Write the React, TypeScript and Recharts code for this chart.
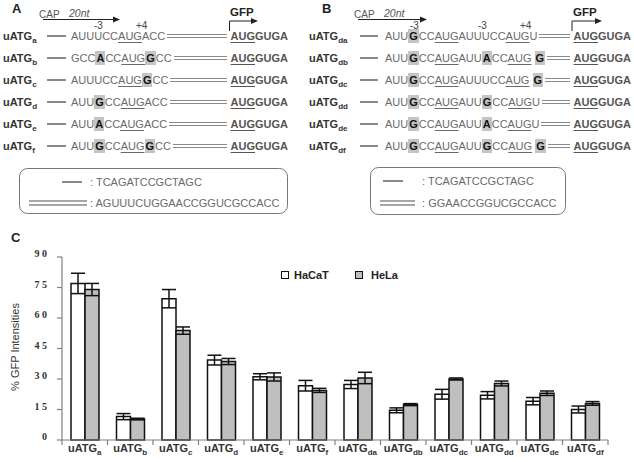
import { BarChart, Bar, XAxis, YAxis, ErrorBar } from 'recharts';

// panel C data
const constructs = ['a', 'b', 'c', 'd', 'e', 'f', 'da', 'db', 'dc', 'dd', 'de', 'df'];
const hacat = [77, 11.5, 69.5, 39.3, 31.1, 26.7, 27.3, 14.6, 22.5, 22, 19.1, 15];
const hacatErr = [5, 1.5, 4.5, 2.4, 1.5, 2.6, 2, 1.2, 2.4, 1.8, 1.8, 1.7];
const hela = [74, 10.3, 53.8, 38.6, 31, 24.4, 30.5, 17.4, 30, 27.8, 23, 18];
const helaErr = [3, 0.4, 1.8, 1.5, 2, 1, 2.8, 0.5, 0.5, 1.2, 1.1, 0.9];
const yTicks = [0, 15, 30, 45, 60, 75, 90];

// panels A / B sequences: [X] = shaded mutated base, _..._ = underlined AUG
const seqA = [
  'AUUUCC_AUG_ACC',
  'GCC[A]CC_AUG_[G]CC',
  'AUUUCC_AUG_[G]CC',
  'AUU[G]CC_AUG_ACC',
  'AUU[A]CC_AUG_ACC',
  'AUU[G]CC_AUG_[G]CC',
];
const seqB = [
  'AUU[G]CC_AUG_AUUUCC_AUG_U',
  'AUU[G]CC_AUG_AUU[A]CC_AUG_ [G]',
  'AUU[G]CC_AUG_AUUUCC_AUG_ [G]',
  'AUU[G]CC_AUG_AUU[G]CC_AUG_U',
  'AUU[G]CC_AUG_AUU[A]CC_AUG_U',
  'AUU[G]CC_AUG_AUU[G]CC_AUG_ [G]',
];
const linkerShort = 'TCAGATCCGCTAGC';
const linkerA = 'AGUUUCUGGAACCGGUCGCCACC';
const linkerB = 'GGAACCGGUCGCCACC';
const orf = '_AUG_GUGA';

const SANS = 'Arial, "Liberation Sans", sans-serif';
const SERIF = '"Times New Roman", "Liberation Serif", serif';
const LINE = '#8a8a8a';
const SEQ = '#6a6a6a';
const AX = '#808080';
const PLOT_W = 546;
const BAND = PLOT_W / constructs.length;

const data = constructs.map((c, i) => ({
  name: c,
  hacat: hacat[i],
  hacatErr: hacatErr[i],
  hela: hela[i],
  helaErr: helaErr[i],
}));

const UL = { textDecoration: 'underline', textUnderlineOffset: 2 };
const SHADE = {
  background: '#c4c4c4',
  color: '#111',
  fontWeight: 'bold',
  display: 'inline-block',
  lineHeight: '14px',
  padding: '0 1px',
};

function renderSeq(seq: string) {
  const out: any[] = [];
  let under = false;
  let buf = '';
  let k = 0;
  const flush = () => {
    if (buf) {
      out.push(<span key={k++} style={under ? UL : undefined}>{buf}</span>);
      buf = '';
    }
  };
  for (let i = 0; i < seq.length; i++) {
    const ch = seq[i];
    if (ch === '_') {
      flush();
      under = !under;
    } else if (ch === '[') {
      flush();
      out.push(<span key={k++} style={SHADE}>{seq[i + 1]}</span>);
      i += 2;
    } else {
      buf += ch;
    }
  }
  flush();
  return out;
}

function SeqRow({ name, seq, y, labelX, left, width, lead, gap }: any) {
  return (
    <>
      <div style={{ position: 'absolute', left: labelX, top: y - 8, lineHeight: '16px', fontSize: 11, fontWeight: 'bold', color: '#333', whiteSpace: 'nowrap' }}>
        uATG<span style={{ fontSize: 8, position: 'relative', top: 3 }}>{name}</span>
      </div>
      <div style={{ position: 'absolute', left, top: y - 8, width, height: 16, display: 'flex', alignItems: 'center', fontSize: 11, color: SEQ }}>
        <div style={{ width: lead, height: 2, background: LINE, marginRight: gap, flex: 'none' }} />
        <span style={{ whiteSpace: 'pre' }}>{renderSeq(seq)}</span>
        <div style={{ flex: 1, height: 2, borderTop: `1.5px solid ${LINE}`, borderBottom: `1.5px solid ${LINE}`, margin: '0 4px 0 2px' }} />
        <span style={{ fontWeight: 'bold', color: '#555', whiteSpace: 'pre' }}>{renderSeq(orf)}</span>
      </div>
    </>
  );
}

function XTick({ x, y, payload, index }: any) {
  return (
    <g>
      <line x1={x + BAND / 2} x2={x + BAND / 2} y1={y} y2={y + 5} stroke={AX} strokeWidth={1.2} />
      {index === 0 && <line x1={x - BAND / 2} x2={x - BAND / 2} y1={y} y2={y + 5} stroke={AX} strokeWidth={1.2} />}
      <text x={x} y={y + 12} textAnchor="middle" fontFamily={SANS} fontSize={11} fontWeight="bold" fill="#333">
        <tspan>uATG</tspan>
        <tspan fontSize={8} dy={3}>{payload.value}</tspan>
      </text>
    </g>
  );
}

function YTick({ x, y, payload }: any) {
  return (
    <text x={x - 10} y={y} textAnchor="end" fontFamily={SERIF} fontSize={10} fontWeight="bold" fill="#333">
      {String(payload.value).split('').join(' ')}
    </text>
  );
}

function Arrow({ d, hx, hy }: any) {
  return (
    <g>
      <path d={d} fill="none" stroke="#222" strokeWidth={1} />
      <polygon points={`${hx - 7},${hy - 3} ${hx},${hy} ${hx - 7},${hy + 3}`} fill="#222" />
    </g>
  );
}

export default function App() {
  const rowY = [36, 58, 80, 102, 124, 146];
  return (
    <div style={{ position: 'absolute', left: 0, top: 0, width: 634, height: 462, background: '#fff', overflow: 'hidden', fontFamily: SANS }}>
      <div style={{ position: 'absolute', left: 0, top: 225 }}>
        <BarChart width={634} height={237} data={data} margin={{ top: 32, right: 26, bottom: 0, left: 0 }} barGap={0} barSize={14}>
          <XAxis dataKey="name" height={22} interval={0} tickSize={0} tickMargin={0} tick={<XTick />} axisLine={{ stroke: AX, strokeWidth: 1.2 }} />
          <XAxis xAxisId="top" orientation="top" dataKey="name" height={0} tick={false} tickLine={false} axisLine={{ stroke: AX, strokeWidth: 1.2 }} />
          <YAxis width={62} domain={[0, 90]} ticks={yTicks} tickSize={5} tickMargin={0} tick={<YTick />} tickLine={{ stroke: AX, strokeWidth: 1.2 }} axisLine={{ stroke: AX, strokeWidth: 1.2 }} />
          <YAxis yAxisId="r" orientation="right" width={0} domain={[0, 90]} tick={false} tickLine={false} axisLine={{ stroke: AX, strokeWidth: 1.2 }} />
          <Bar dataKey="hacat" fill="#fff" stroke="#111" strokeWidth={1.5} isAnimationActive={false}>
            <ErrorBar dataKey="hacatErr" width={7} stroke="#111" strokeWidth={1.5} />
          </Bar>
          <Bar dataKey="hela" fill="#bfbfbf" stroke="#111" strokeWidth={1.5} isAnimationActive={false}>
            <ErrorBar dataKey="helaErr" width={7} stroke="#111" strokeWidth={1.5} />
          </Bar>
        </BarChart>
      </div>

      <svg width={634} height={462} style={{ position: 'absolute', left: 0, top: 0, pointerEvents: 'none' }} fontFamily={SANS}>
        {/* panel letters */}
        <text x={12} y={13} fontSize={13} fontWeight="bold" fill="#222">A</text>
        <text x={322} y={13} fontSize={13} fontWeight="bold" fill="#222">B</text>
        <text x={11} y={242} fontSize={13} fontWeight="bold" fill="#222">C</text>

        {/* panel A header */}
        <text x={39} y={18} fontSize={10} fill="#555">CAP</text>
        <text x={69} y={16.5} fontSize={10.5} fontStyle="italic" fill="#555">20nt</text>
        <Arrow d="M43,19.5 H114" hx={120} hy={19.5} />
        <text x={94} y={28.5} fontSize={10} fill="#444">-3</text>
        <text x={136} y={28.5} fontSize={10} fill="#444">+4</text>
        <text x={230} y={16} fontSize={11.5} fontWeight="bold" fill="#222">GFP</text>
        <Arrow d="M229.5,31 V21 H252" hx={258} hy={21} />

        {/* panel B header */}
        <text x={354} y={18} fontSize={10} fill="#555">CAP</text>
        <text x={384} y={16.5} fontSize={10.5} fontStyle="italic" fill="#555">20nt</text>
        <Arrow d="M358,19.5 H421" hx={427} hy={19.5} />
        <text x={410} y={28.5} fontSize={10} fill="#444">-3</text>
        <text x={478} y={28.5} fontSize={10} fill="#444">-3</text>
        <text x={520} y={28.5} fontSize={10} fill="#444">+4</text>
        <text x={573} y={16} fontSize={11.5} fontWeight="bold" fill="#222">GFP</text>
        <Arrow d="M572,31 V21 H596" hx={602} hy={21} />

        {/* legend boxes */}
        <rect x={19.5} y={168.5} width={268} height={45} rx={8} fill="none" stroke="#777" />
        <line x1={62} x2={82} y1={182} y2={182} stroke={LINE} strokeWidth={2} />
        <text x={90} y={186} fontSize={11} fill={SEQ}>: {linkerShort}</text>
        <line x1={29} x2={87} y1={201} y2={201} stroke={LINE} strokeWidth={1.5} />
        <line x1={29} x2={87} y1={205} y2={205} stroke={LINE} strokeWidth={1.5} />
        <text x={90} y={207} fontSize={11} fill={SEQ}>: {linkerA}</text>

        <rect x={370.5} y={167.5} width={195} height={47} rx={8} fill="none" stroke="#777" />
        <line x1={383} x2={403} y1={181} y2={181} stroke={LINE} strokeWidth={2} />
        <text x={422} y={185} fontSize={11} fill={SEQ}>: {linkerShort}</text>
        <line x1={380} x2={415} y1={201} y2={201} stroke={LINE} strokeWidth={1.5} />
        <line x1={380} x2={415} y1={205} y2={205} stroke={LINE} strokeWidth={1.5} />
        <text x={422} y={207} fontSize={11} fill={SEQ}>: {linkerB}</text>

        {/* chart legend + y label */}
        <rect x={281.5} y={271.5} width={7} height={7} fill="#fff" stroke="#111" />
        <text x={294} y={278.5} fontSize={11} fontWeight="bold" fill="#222">HaCaT</text>
        <rect x={355.5} y={271.5} width={7} height={7} fill="#bfbfbf" stroke="#111" />
        <text x={371} y={278.5} fontSize={11} fontWeight="bold" fill="#222">HeLa</text>
        <text transform="translate(19,347) rotate(-90)" textAnchor="middle" fontSize={11} fill="#333">% GFP Intensities</text>
      </svg>

      {seqA.map((s, i) => (
        <SeqRow key={'a' + i} name={constructs[i]} seq={s} y={rowY[i]} labelX={3} left={47} width={241} lead={19} gap={5} />
      ))}
      {seqB.map((s, i) => (
        <SeqRow key={'b' + i} name={constructs[i + 6]} seq={s} y={rowY[i]} labelX={309} left={360} width={271} lead={18} gap={7} />
      ))}
    </div>
  );
}
